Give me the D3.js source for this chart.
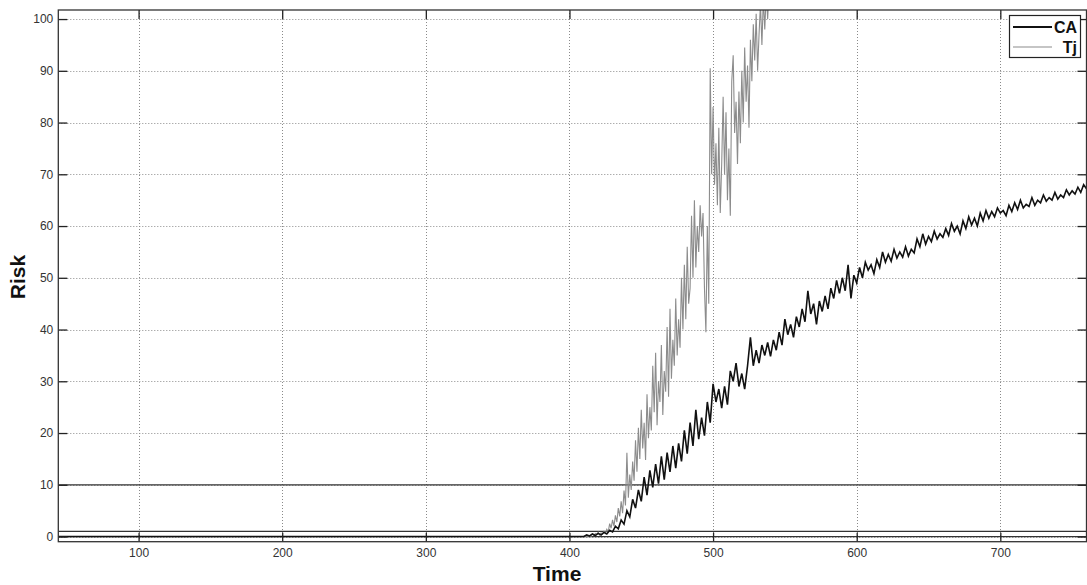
<!DOCTYPE html>
<html>
<head>
<meta charset="utf-8">
<script src="https://cdn.jsdelivr.net/npm/d3@7"></script>
<style>
  html, body { margin: 0; padding: 0; background: #fff; }
  svg { display: block; font-family: "Liberation Sans", Arial, sans-serif; }
</style>
</head>
<body>
<svg id="chart" width="1087" height="585"></svg>
<script>
// ---- data ----
const xTicks = [100, 200, 300, 400, 500, 600, 700];
const yTicks = [0, 10, 20, 30, 40, 50, 60, 70, 80, 90, 100];
const thresholds = [0, 1, 10];
const seriesNames = ["CA", "Tj"];

// Series are zero from the start of the run until t = 410
const zeroStart = 44;
const zeroEnd = 410;

// CA: sampled every 2 time units from t = 410
const caStart = 410, caStep = 2;
const caValues = [
  0.0, 0.3, 0.1, 0.5, 0.2, 0.6, 0.3, 0.8, 0.5, 1.2,
  0.9, 2.0, 1.5, 3.2, 2.4, 5.0, 3.8, 7.2, 5.5, 9.0,
  6.8, 11.5, 8.0, 12.8, 9.5, 14.0, 10.2, 15.5, 11.0, 16.2,
  12.5, 17.5, 13.2, 18.0, 14.5, 20.5, 16.0, 22.0, 17.5, 24.5,
  18.8, 23.0, 19.5, 26.0, 22.0, 29.5, 26.0, 28.5, 24.8, 29.0,
  25.5, 32.0, 30.0, 33.5, 29.0, 31.5, 28.5, 33.0, 38.5, 33.0,
  36.0, 33.5, 37.0, 35.0, 37.5, 34.8, 38.0, 36.0, 39.5, 37.0,
  42.0, 39.0, 41.0, 38.5, 42.5, 40.5, 44.0, 41.5, 47.5, 43.0,
  45.0, 41.0, 45.5, 43.5, 46.5, 44.0, 48.0, 46.0, 49.5, 47.0,
  50.0, 47.5, 52.5, 46.0, 50.5, 49.0, 52.0, 50.0, 53.0, 51.5,
  52.5, 50.8, 53.5, 52.0, 55.0, 53.0, 54.5, 53.2, 55.5, 53.8,
  55.0, 54.0, 56.0, 54.2, 55.5, 54.8, 57.5, 56.0, 58.5, 56.5,
  58.0, 57.0, 59.0, 57.5, 58.5, 57.8, 59.5, 58.2, 60.5, 59.0,
  60.0, 58.5, 61.0, 59.5, 61.8, 60.2, 61.5, 60.0, 62.5, 61.0,
  63.0, 61.5, 62.8, 61.8, 63.5, 62.5, 63.0, 62.0, 64.0, 62.8,
  64.5, 63.2, 65.0, 63.5, 64.2, 63.8, 65.5, 64.0, 65.0, 64.5,
  66.0, 64.8, 65.5, 65.0, 66.5, 65.2, 66.0, 65.5, 67.0, 66.0,
  66.8, 66.2, 67.5, 66.5, 68.0, 67.2
];

// Tj: sampled every time unit from t = 415
const tjStart = 415, tjStep = 1;
const tjValues = [
  0.3, 0.5, 0.2, 0.6, 0.4, 0.8, 0.3, 0.7, 0.5, 1.0,
  0.6, 1.4, 0.9, 2.5, 1.6, 3.2, 2.0, 4.1, 2.8, 5.5,
  3.9, 6.8, 4.5, 8.9, 6.0, 16.2, 7.5, 12.0, 9.0, 14.5,
  10.8, 18.6, 12.5, 21.0, 15.0, 24.5, 17.0, 22.0, 14.8, 27.5,
  19.0, 25.0, 20.5, 33.0, 24.0, 35.5, 21.5, 30.0, 26.0, 37.0,
  23.5, 32.0, 28.0, 40.5, 27.0, 44.0, 30.5, 38.0, 33.0, 46.0,
  35.0, 42.0, 36.5, 50.0, 40.0, 52.5, 42.0, 56.0, 45.0, 48.0,
  62.0, 50.0, 65.0, 52.0, 60.0, 55.0, 64.0, 58.0, 62.5, 48.0,
  39.5, 60.0, 45.0, 90.5, 70.0, 83.0, 68.0, 76.0, 64.0, 79.0,
  62.5, 72.0, 85.0, 70.0, 82.0, 65.0, 75.0, 62.0, 88.0, 93.0,
  78.0, 84.0, 72.0, 86.0, 76.0, 90.0, 80.0, 94.5, 84.0, 91.0,
  79.0, 96.0, 88.0, 99.0, 92.0, 101.0, 90.0, 97.0, 103.0, 95.0,
  104.0, 98.0, 105.0, 100.0, 106.0, 103.0, 108.0
];

// ---- build point lists ----
const caPts = [[zeroStart, 0], [zeroEnd, 0]].concat(caValues.map((v, i) => [caStart + i * caStep, v]));
const tjPts = [[zeroStart, 0], [tjStart, 0]].concat(tjValues.map((v, i) => [tjStart + i * tjStep, v]));

// ---- layout ----
const svg = d3.select("#chart");
const L = 58.3, R = 1086.5, T = 10, B = 541.7;
const x = d3.scaleLinear().domain([44.1, 760]).range([L, R]);
const y = d3.scaleLinear().domain([-1, 101.75]).range([B, T]);

svg.append("defs").append("clipPath").attr("id", "clip")
  .append("rect").attr("x", L).attr("y", T).attr("width", R - L).attr("height", B - T);

// grid
const grid = svg.append("g").attr("stroke", "#8a8a8a").attr("stroke-width", 1)
  .attr("stroke-dasharray", "1,2").attr("fill", "none");
xTicks.forEach(t => grid.append("line")
  .attr("x1", Math.round(x(t)) + 0.5).attr("x2", Math.round(x(t)) + 0.5)
  .attr("y1", T).attr("y2", B));
yTicks.forEach(t => grid.append("line")
  .attr("x1", L).attr("x2", R)
  .attr("y1", Math.round(y(t)) + 0.5).attr("y2", Math.round(y(t)) + 0.5));

// threshold lines
const thr = svg.append("g").attr("stroke", "#333").attr("stroke-width", 1.3);
thresholds.forEach(t => thr.append("line")
  .attr("x1", L).attr("x2", R).attr("y1", y(t)).attr("y2", y(t)));

// series
const line = d3.line().x(d => x(d[0])).y(d => y(d[1]));
const plot = svg.append("g").attr("clip-path", "url(#clip)");
plot.append("path").datum(tjPts).attr("d", line)
  .attr("fill", "none").attr("stroke", "#8c8c8c").attr("stroke-width", 1.1);
plot.append("path").datum(caPts).attr("d", line)
  .attr("fill", "none").attr("stroke", "#111").attr("stroke-width", 1.6);

// axes (MATLAB-style inward ticks on all four sides)
const tickLen = 9;
const axB = d3.axisBottom(x).tickValues(xTicks).tickSizeInner(-tickLen).tickSizeOuter(0).tickPadding(7);
const axT = d3.axisTop(x).tickValues(xTicks).tickSizeInner(-tickLen).tickSizeOuter(0).tickFormat("");
const axL = d3.axisLeft(y).tickValues(yTicks).tickSizeInner(-tickLen).tickSizeOuter(0).tickPadding(5);
const axR = d3.axisRight(y).tickValues(yTicks).tickSizeInner(-tickLen).tickSizeOuter(0).tickFormat("");

function styleAxis(g) {
  g.select(".domain").remove();
  g.selectAll(".tick line").attr("stroke", "#222").attr("stroke-width", 1.3);
  g.selectAll(".tick text").attr("fill", "#333").style("font-size", "12px");
}
svg.append("g").attr("transform", `translate(0,${B})`).call(axB).call(styleAxis);
svg.append("g").attr("transform", `translate(0,${T})`).call(axT).call(styleAxis);
svg.append("g").attr("transform", `translate(${L},0)`).call(axL).call(styleAxis);
svg.append("g").attr("transform", `translate(${R},0)`).call(axR).call(styleAxis);

// frame
svg.append("rect").attr("x", L).attr("y", T).attr("width", R - L).attr("height", B - T)
  .attr("fill", "none").attr("stroke", "#333").attr("stroke-width", 1.3);

// axis titles
svg.append("text").attr("x", 557).attr("y", 581).attr("text-anchor", "middle")
  .style("font-size", "21px").style("font-weight", "bold").attr("fill", "#111").text("Time");
svg.append("text").attr("transform", "translate(25,277) rotate(-90)").attr("text-anchor", "middle")
  .style("font-size", "21px").style("font-weight", "bold").attr("fill", "#111").text("Risk");

// legend
const lg = svg.append("g");
lg.append("rect").attr("x", 1009.5).attr("y", 15.5).attr("width", 71).attr("height", 42)
  .attr("fill", "#fff").attr("stroke", "#222").attr("stroke-width", 1.2);
const legendStyles = [
  { color: "#111", width: 2.2 },
  { color: "#8c8c8c", width: 1.2 }
];
seriesNames.forEach((name, i) => {
  const yy = 27 + i * 20;
  lg.append("line").attr("x1", 1013).attr("x2", 1052).attr("y1", yy).attr("y2", yy)
    .attr("stroke", legendStyles[i].color).attr("stroke-width", legendStyles[i].width);
  lg.append("text").attr("x", 1077).attr("y", yy + 5.5).attr("text-anchor", "end")
    .style("font-size", "16px").style("font-weight", "bold").attr("fill", "#111").text(name);
});
</script>
</body>
</html>
